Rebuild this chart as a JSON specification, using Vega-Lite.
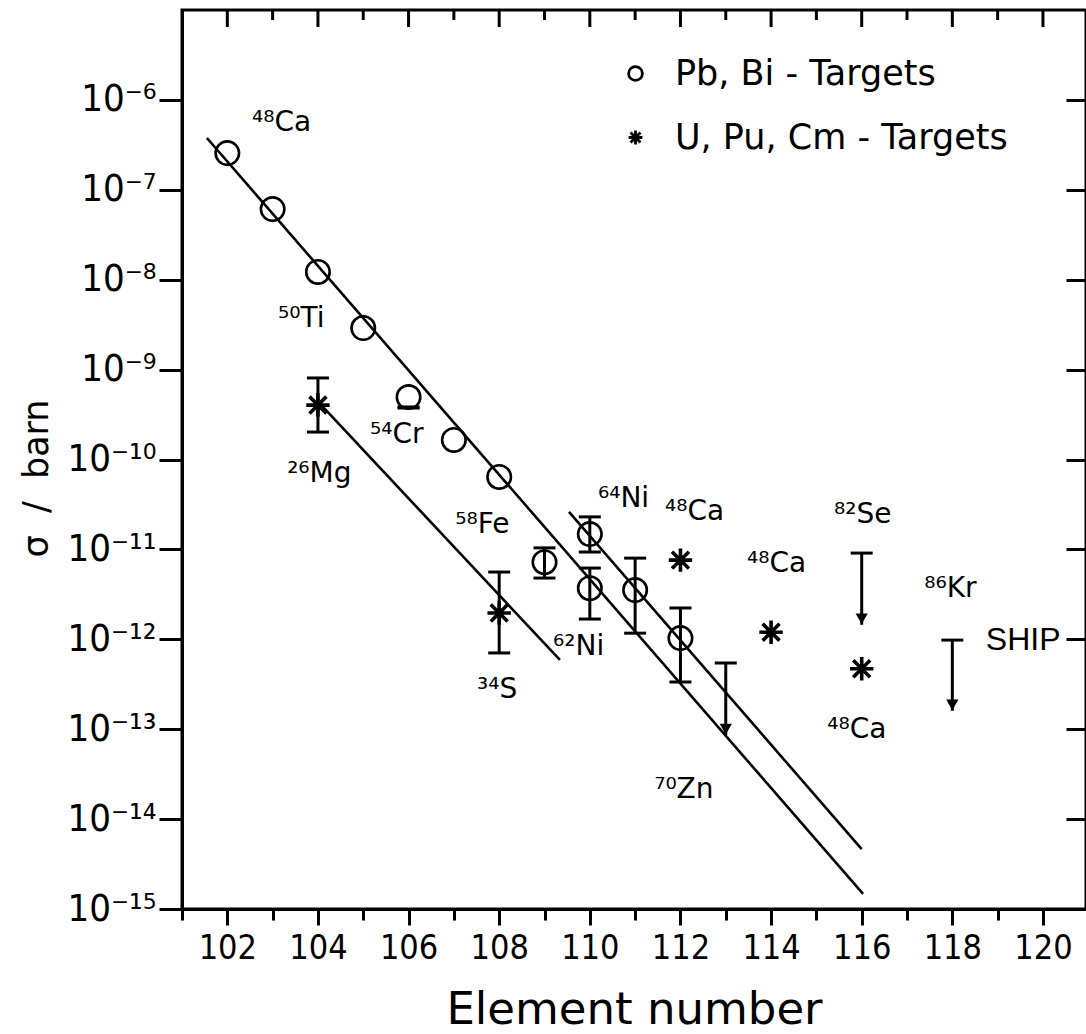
{
  "$schema": "https://vega.github.io/schema/vega-lite/v6.json",
  "autosize": {"type": "none"},
  "padding": {"left": 182, "top": 10, "right": 0, "bottom": 125},
  "width": 904,
  "height": 899,
  "background": "white",
  "datasets": {
    "points": [
      {"Z": 102, "s": 2.56e-7, "t": "Pb, Bi - Targets"},
      {"Z": 103, "s": 6.1e-8, "t": "Pb, Bi - Targets"},
      {"Z": 104, "s": 1.22e-8, "t": "Pb, Bi - Targets"},
      {"Z": 105, "s": 2.9e-9, "t": "Pb, Bi - Targets"},
      {"Z": 106, "s": 4.95e-10, "t": "Pb, Bi - Targets"},
      {"Z": 107, "s": 1.65e-10, "t": "Pb, Bi - Targets"},
      {"Z": 108, "s": 6.4e-11, "t": "Pb, Bi - Targets"},
      {"Z": 109, "s": 7.2e-12, "t": "Pb, Bi - Targets"},
      {"Z": 110, "s": 1.48e-11, "t": "Pb, Bi - Targets"},
      {"Z": 110, "s": 3.7e-12, "t": "Pb, Bi - Targets"},
      {"Z": 111, "s": 3.53e-12, "t": "Pb, Bi - Targets"},
      {"Z": 112, "s": 1.03e-12, "t": "Pb, Bi - Targets"},
      {"Z": 104, "s": 4.03e-10, "t": "U, Pu, Cm - Targets"},
      {"Z": 108, "s": 1.96e-12, "t": "U, Pu, Cm - Targets"},
      {"Z": 112, "s": 7.6e-12, "t": "U, Pu, Cm - Targets"},
      {"Z": 114, "s": 1.2e-12, "t": "U, Pu, Cm - Targets"},
      {"Z": 116, "s": 4.7e-13, "t": "U, Pu, Cm - Targets"}
    ],
    "errors": [
      {"Z": 104, "lo": 2.02e-10, "hi": 8.07e-10},
      {"Z": 106, "lo": 3.74e-10, "hi": 3.84e-10},
      {"Z": 108, "lo": 7.05e-13, "hi": 5.6e-12},
      {"Z": 109, "lo": 4.8e-12, "hi": 1.04e-11},
      {"Z": 110, "lo": 9.35e-12, "hi": 2.3e-11},
      {"Z": 110, "lo": 1.68e-12, "hi": 6.2e-12},
      {"Z": 111, "lo": 1.17e-12, "hi": 8.0e-12},
      {"Z": 112, "lo": 3.35e-13, "hi": 2.23e-12}
    ],
    "limits": [
      {"Z": 113, "cap": 5.45e-13, "tip": 8.6e-14},
      {"Z": 116, "cap": 9.1e-12, "tip": 1.45e-12},
      {"Z": 118, "cap": 9.8e-13, "tip": 1.6e-13}
    ],
    "fits": [
      {"id": "a", "Z": 101.55, "s": 3.77e-7},
      {"id": "a", "Z": 116.03, "s": 1.47e-15},
      {"id": "b", "Z": 109.54, "s": 2.61e-11},
      {"id": "b", "Z": 116.0, "s": 4.64e-15},
      {"id": "c", "Z": 104.09, "s": 3.94e-10},
      {"id": "c", "Z": 109.34, "s": 5.89e-13}
    ],
    "topticks": [
      {"Z": 102, "top": 1e-5, "end": 6.47e-6}, {"Z": 104, "top": 1e-5, "end": 6.47e-6},
      {"Z": 106, "top": 1e-5, "end": 6.47e-6}, {"Z": 108, "top": 1e-5, "end": 6.47e-6},
      {"Z": 110, "top": 1e-5, "end": 6.47e-6}, {"Z": 112, "top": 1e-5, "end": 6.47e-6},
      {"Z": 114, "top": 1e-5, "end": 6.47e-6}, {"Z": 116, "top": 1e-5, "end": 6.47e-6},
      {"Z": 118, "top": 1e-5, "end": 6.47e-6}, {"Z": 120, "top": 1e-5, "end": 6.47e-6},
      {"Z": 103, "top": 1e-5, "end": 7.74e-6}, {"Z": 105, "top": 1e-5, "end": 7.74e-6},
      {"Z": 107, "top": 1e-5, "end": 7.74e-6}, {"Z": 109, "top": 1e-5, "end": 7.74e-6},
      {"Z": 111, "top": 1e-5, "end": 7.74e-6}, {"Z": 113, "top": 1e-5, "end": 7.74e-6},
      {"Z": 115, "top": 1e-5, "end": 7.74e-6}, {"Z": 117, "top": 1e-5, "end": 7.74e-6},
      {"Z": 119, "top": 1e-5, "end": 7.74e-6}
    ],
    "labels": [
      {"Z": 102.545, "s": 4.5e-7, "txt": "⁴⁸Ca", "kind": "iso"},
      {"Z": 103.12, "s": 2.98e-9, "txt": "⁵⁰Ti", "kind": "iso"},
      {"Z": 105.15, "s": 1.52e-10, "txt": "⁵⁴Cr", "kind": "iso"},
      {"Z": 103.32, "s": 5.6e-11, "txt": "²⁶Mg", "kind": "iso"},
      {"Z": 107.03, "s": 1.52e-11, "txt": "⁵⁸Fe", "kind": "iso"},
      {"Z": 107.51, "s": 2.22e-13, "txt": "³⁴S", "kind": "iso"},
      {"Z": 109.19, "s": 6.7e-13, "txt": "⁶²Ni", "kind": "iso"},
      {"Z": 110.18, "s": 2.97e-11, "txt": "⁶⁴Ni", "kind": "iso"},
      {"Z": 111.66, "s": 2.12e-11, "txt": "⁴⁸Ca", "kind": "iso"},
      {"Z": 113.47, "s": 5.6e-12, "txt": "⁴⁸Ca", "kind": "iso"},
      {"Z": 115.39, "s": 1.97e-11, "txt": "⁸²Se", "kind": "iso"},
      {"Z": 117.38, "s": 2.96e-12, "txt": "⁸⁶Kr", "kind": "iso"},
      {"Z": 115.24, "s": 7.98e-14, "txt": "⁴⁸Ca", "kind": "iso"},
      {"Z": 111.42, "s": 1.72e-14, "txt": "⁷⁰Zn", "kind": "iso"},
      {"Z": 118.74, "s": 7.6e-13, "txt": "SHIP", "kind": "ship"}
    ]
  },
  "resolve": {"axis": {"x": "independent", "y": "independent"}},
  "layer": [
    {
      "data": {"name": "fits"},
      "mark": {"type": "line", "color": "black", "strokeWidth": 2.6},
      "encoding": {
        "x": {"field": "Z", "type": "quantitative",
          "scale": {"domain": [101, 120.95], "nice": false, "zero": false},
          "axis": {"orient": "bottom", "values": [102, 104, 106, 108, 110, 112, 114, 116, 118, 120],
            "tickSize": 16, "labelFontSize": 34, "labelPadding": 6, "format": "d",
            "labelOverlap": false, "labelFlush": false, "labelBound": false,
            "title": "Element number", "titleFontSize": 45, "titleY": 114, "titleBaseline": "alphabetic"}},
        "y": {"field": "s", "type": "quantitative",
          "scale": {"type": "log", "domain": [1e-15, 1e-5], "nice": false},
          "axis": {"orient": "left", "values": [1e-15, 1e-14, 1e-13, 1e-12, 1e-11, 1e-10, 1e-9, 1e-8, 1e-7, 1e-6],
            "tickSize": 23, "labelFontSize": 38, "labelPadding": 3, "labelOverlap": false, "labelBound": false,
            "labelExpr": "'10' + ['⁻¹⁵','⁻¹⁴','⁻¹³','⁻¹²','⁻¹¹','⁻¹⁰','⁻⁹','⁻⁸','⁻⁷','⁻⁶','⁻⁵'][round(log(datum.value)/LN10)+15]",
            "title": "σ\u00a0\u00a0/\u00a0\u00a0barn", "titleFontSize": 35, "titleAngle": 270, "titleX": -135, "titleY": 468,
            "titleBaseline": "alphabetic", "titleAlign": "center"}},
        "detail": {"field": "id"}
      }
    },
    {
      "data": {"name": "points"},
      "mark": {"type": "point", "filled": false, "color": "black", "size": 550, "opacity": 1},
      "encoding": {
        "x": {"field": "Z", "type": "quantitative",
          "scale": {"domain": [101, 120.95], "nice": false, "zero": false},
          "axis": {"orient": "bottom", "values": [101, 103, 105, 107, 109, 111, 113, 115, 117, 119],
            "tickSize": 11, "labels": false, "domain": false, "title": null}},
        "y": {"field": "s", "type": "quantitative",
          "scale": {"type": "log", "domain": [1e-15, 1e-5], "nice": false},
          "axis": {"orient": "right", "values": [1e-15, 1e-14, 1e-13, 1e-12, 1e-11, 1e-10, 1e-9, 1e-8, 1e-7, 1e-6],
            "tickSize": -20, "labels": false, "domain": false, "title": null}},
        "shape": {"field": "t", "type": "nominal",
          "scale": {"domain": ["Pb, Bi - Targets", "U, Pu, Cm - Targets"],
            "range": ["circle", "M0,-1L0,1M-1,0L1,0M-0.72,-0.72L0.72,0.72M-0.72,0.72L0.72,-0.72"]},
          "legend": {"title": null, "orient": "none", "legendX": 436, "legendY": 46,
            "labelFontSize": 35, "labelFont": "DejaVu Sans", "labelColor": "black", "labelLimit": 0,
            "symbolSize": 190, "symbolStrokeWidth": 2.8, "symbolStrokeColor": "black",
            "rowPadding": 28, "labelOffset": 22}},
        "strokeWidth": {"condition": {"test": "datum.t == 'U, Pu, Cm - Targets'", "value": 3.6}, "value": 2.6}
      }
    },
    {
      "data": {"name": "topticks"},
      "mark": {"type": "rule", "color": "black", "strokeWidth": 3, "opacity": 1},
      "encoding": {
        "x": {"field": "Z", "type": "quantitative",
          "scale": {"domain": [101, 120.95], "nice": false, "zero": false}, "axis": null},
        "y": {"field": "top", "type": "quantitative",
          "scale": {"type": "log", "domain": [1e-15, 1e-5], "nice": false}, "axis": null},
        "y2": {"field": "end"}
      }
    },
    {
      "data": {"name": "errors"},
      "mark": {"type": "rule", "color": "black", "strokeWidth": 3, "opacity": 1},
      "encoding": {
        "x": {"field": "Z", "type": "quantitative",
          "scale": {"domain": [101, 120.95], "nice": false, "zero": false}, "axis": null},
        "y": {"field": "lo", "type": "quantitative",
          "scale": {"type": "log", "domain": [1e-15, 1e-5], "nice": false}, "axis": null},
        "y2": {"field": "hi"}
      }
    },
    {
      "data": {"name": "errors"},
      "mark": {"type": "tick", "orient": "horizontal", "color": "black", "thickness": 3, "size": 22, "opacity": 1},
      "encoding": {
        "x": {"field": "Z", "type": "quantitative",
          "scale": {"domain": [101, 120.95], "nice": false, "zero": false}, "axis": null},
        "y": {"field": "lo", "type": "quantitative",
          "scale": {"type": "log", "domain": [1e-15, 1e-5], "nice": false}, "axis": null}
      }
    },
    {
      "data": {"name": "errors"},
      "mark": {"type": "tick", "orient": "horizontal", "color": "black", "thickness": 3, "size": 22, "opacity": 1},
      "encoding": {
        "x": {"field": "Z", "type": "quantitative",
          "scale": {"domain": [101, 120.95], "nice": false, "zero": false}, "axis": null},
        "y": {"field": "hi", "type": "quantitative",
          "scale": {"type": "log", "domain": [1e-15, 1e-5], "nice": false}, "axis": null}
      }
    },
    {
      "data": {"name": "limits"},
      "mark": {"type": "rule", "color": "black", "strokeWidth": 3, "opacity": 1},
      "encoding": {
        "x": {"field": "Z", "type": "quantitative",
          "scale": {"domain": [101, 120.95], "nice": false, "zero": false}, "axis": null},
        "y": {"field": "cap", "type": "quantitative",
          "scale": {"type": "log", "domain": [1e-15, 1e-5], "nice": false}, "axis": null},
        "y2": {"field": "tip"}
      }
    },
    {
      "data": {"name": "limits"},
      "mark": {"type": "tick", "orient": "horizontal", "color": "black", "thickness": 3, "size": 22, "opacity": 1},
      "encoding": {
        "x": {"field": "Z", "type": "quantitative",
          "scale": {"domain": [101, 120.95], "nice": false, "zero": false}, "axis": null},
        "y": {"field": "cap", "type": "quantitative",
          "scale": {"type": "log", "domain": [1e-15, 1e-5], "nice": false}, "axis": null}
      }
    },
    {
      "data": {"name": "limits"},
      "mark": {"type": "point", "shape": "triangle-down", "filled": true, "color": "black", "size": 150, "yOffset": -6, "opacity": 1},
      "encoding": {
        "x": {"field": "Z", "type": "quantitative",
          "scale": {"domain": [101, 120.95], "nice": false, "zero": false}, "axis": null},
        "y": {"field": "tip", "type": "quantitative",
          "scale": {"type": "log", "domain": [1e-15, 1e-5], "nice": false}, "axis": null}
      }
    },
    {
      "data": {"name": "labels"},
      "transform": [{"filter": "datum.kind == 'iso'"}],
      "mark": {"type": "text", "align": "left", "baseline": "alphabetic", "font": "DejaVu Sans", "fontSize": 28, "color": "black"},
      "encoding": {
        "x": {"field": "Z", "type": "quantitative",
          "scale": {"domain": [101, 120.95], "nice": false, "zero": false}, "axis": null},
        "y": {"field": "s", "type": "quantitative",
          "scale": {"type": "log", "domain": [1e-15, 1e-5], "nice": false}, "axis": null},
        "text": {"field": "txt"}
      }
    },
    {
      "data": {"name": "labels"},
      "transform": [{"filter": "datum.kind == 'ship'"}],
      "mark": {"type": "text", "align": "left", "baseline": "alphabetic", "font": "Liberation Sans", "fontSize": 32, "color": "black"},
      "encoding": {
        "x": {"field": "Z", "type": "quantitative",
          "scale": {"domain": [101, 120.95], "nice": false, "zero": false}, "axis": null},
        "y": {"field": "s", "type": "quantitative",
          "scale": {"type": "log", "domain": [1e-15, 1e-5], "nice": false}, "axis": null},
        "text": {"field": "txt"}
      }
    }
  ],
  "config": {
    "view": {"stroke": "black", "strokeWidth": 3},
    "axis": {
      "domainColor": "black", "domainWidth": 3, "tickColor": "black", "tickWidth": 3,
      "labelColor": "black", "titleColor": "black", "grid": false,
      "labelFont": "Liberation Sans Narrow, DejaVu Sans Condensed, Liberation Sans, sans-serif",
      "titleFont": "DejaVu Sans", "titleFontWeight": "normal"
    },
    "legend": {"padding": 0}
  }
}
